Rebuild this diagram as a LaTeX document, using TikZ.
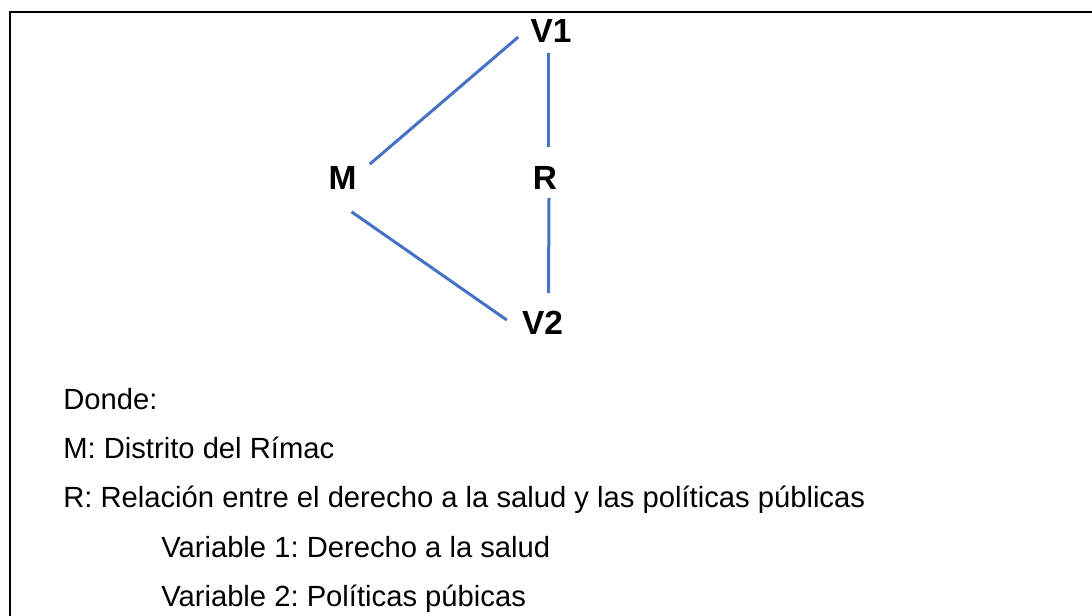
\documentclass[tikz,border=0pt]{standalone}
\usepackage{fontspec}
\setmainfont{Liberation Sans}
\usepackage{xcolor}
\usetikzlibrary{positioning,calc}

\definecolor{linkblue}{RGB}{68,114,196}
\tikzset{
  var/.style={font=\fontsize{25.1}{30}\selectfont\bfseries, inner sep=0pt},
  link/.style={draw=linkblue, line width=2.25pt},
  note/.style={font=\fontsize{21.9}{26}\selectfont\frenchspacing, anchor=base west, inner sep=0pt}
}

\begin{document}
\begin{tikzpicture}[x=0.75pt, y=-0.75pt]
    \useasboundingbox (0,0) rectangle (1092,616);
    \draw[line width=1.5pt] (1092,12) -- (10,12) -- (10,616);
    \foreach \n/\x/\y in {M/342.5/178, R/545/178, V1/551/31, V2/542.5/323}{\node[var] (\n) at (\x,\y) {\n};}
    \draw[link] ([shift={(13,-2)}]M.north east) -- ([shift={(-12,6)}]V1.west);
    \draw[link] ([shift={(9,22)}]M.south) -- ([shift={(-15,-3)}]V2.west);
    \draw[link] ([shift={(-3,10)}]V1.south) -- ([shift={(3,-19)}]R.north);
    \draw[link] ([shift={(4,8)}]R.south) -- ([shift={(6,-18)}]V2.north);
    \foreach \i/\x/\txt in {1/63/Donde:, 2/63/M: Distrito del Rímac, 3/63/R: Relación entre el derecho a la salud y las políticas públicas, 4/161/Variable 1: Derecho a la salud, 5/161/Variable 2: Políticas púbicas}{\node[note] (note\i) at (\x,{360+49.25*\i}) {\txt};}
\end{tikzpicture}
\end{document}
